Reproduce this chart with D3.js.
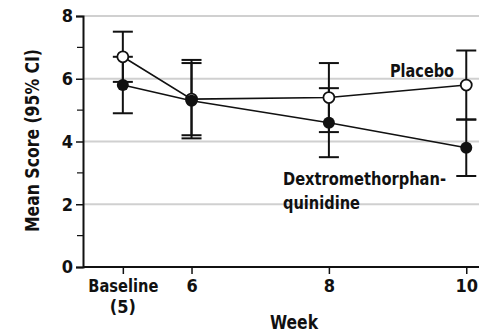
<!DOCTYPE html>
<html>
<head>
<meta charset="utf-8">
<script src="https://cdn.jsdelivr.net/npm/d3@7"></script>
<style>
  body { margin: 0; background: #fff; }
  svg text { font-family: "DejaVu Sans Condensed", "Liberation Sans Narrow", sans-serif; font-weight: bold; fill: #111; }
</style>
</head>
<body>
<svg id="chart" width="479" height="334"></svg>
<script>
// weeks (baseline is week 5)
const weeks = [5, 6, 8, 10];
const weekLabels = ['Baseline', '6', '8', '10'];
const yTicks = [0, 2, 4, 6, 8];
const yMinorTicks = [1, 3, 5, 7];

const placeboMean = [6.7, 5.35, 5.4, 5.8];
const placeboLo = [5.9, 4.2, 4.3, 4.7];
const placeboHi = [7.5, 6.5, 6.5, 6.9];

const dmqMean = [5.8, 5.3, 4.6, 3.8];
const dmqLo = [4.9, 4.1, 3.5, 2.9];
const dmqHi = [6.7, 6.6, 5.7, 4.7];

const margin = { left: 83, top: 16, bottom: 67 };
const width = 479, height = 334;

const svg = d3.select('#chart');

const x = d3.scaleLinear().domain([4.42, 10.2]).range([margin.left, 480]);
const y = d3.scaleLinear().domain([0, 8]).range([height - margin.bottom, margin.top]);

// squeeze text to the narrow face of the original
function narrow(sel, len) {
  sel.attr('textLength', len).attr('lengthAdjust', 'spacingAndGlyphs');
}

// gridlines
svg.append('g')
  .selectAll('line')
  .data(yTicks.filter(d => d > 0))
  .join('line')
    .attr('x1', margin.left).attr('x2', width)
    .attr('y1', d => y(d)).attr('y2', d => y(d))
    .attr('stroke', '#d0d0d0').attr('stroke-width', 2);

// y axis
const yAxis = svg.append('g')
  .attr('transform', `translate(${margin.left},0)`)
  .call(d3.axisLeft(y).tickValues(yTicks).tickSize(7).tickPadding(3));
yAxis.select('.domain').attr('stroke', '#111').attr('stroke-width', 2);
yAxis.selectAll('.tick line').attr('stroke', '#111').attr('stroke-width', 1.5);
yAxis.selectAll('text').style('font-size', '18px');
svg.append('g')
  .selectAll('line')
  .data(yMinorTicks)
  .join('line')
    .attr('x1', margin.left - 6).attr('x2', margin.left)
    .attr('y1', d => y(d)).attr('y2', d => y(d))
    .attr('stroke', '#111').attr('stroke-width', 1.2);

// x axis
const xAxis = svg.append('g')
  .attr('transform', `translate(0,${y(0)})`)
  .call(d3.axisBottom(x).tickValues(weeks).tickSize(7).tickPadding(5)
    .tickFormat((d, i) => weekLabels[i]));
xAxis.select('.domain').attr('d', `M${margin.left},0H${width}`).attr('stroke', '#111').attr('stroke-width', 2);
xAxis.selectAll('.tick line').attr('stroke', '#111').attr('stroke-width', 1.5);
xAxis.selectAll('text').style('font-size', '18px');
xAxis.selectAll('text').filter(d => d === 5).call(narrow, 70);
svg.append('text')
  .attr('x', x(5)).attr('y', y(0) + 46)
  .attr('text-anchor', 'middle').style('font-size', '18px')
  .text('(5)');

svg.append('text')
  .attr('x', 294).attr('y', 329)
  .attr('text-anchor', 'middle').style('font-size', '19px')
  .call(narrow, 48)
  .text('Week');

svg.append('text')
  .attr('transform', `translate(39,${(y(0) + y(8)) / 2 - 1}) rotate(-90)`)
  .attr('text-anchor', 'middle').style('font-size', '19px')
  .call(narrow, 183)
  .text('Mean Score (95% CI)');

// error bars
function errorBars(lo, hi) {
  const g = svg.append('g').attr('stroke', '#111').attr('stroke-width', 2);
  g.selectAll('.v').data(weeks).join('line')
    .attr('x1', d => x(d)).attr('x2', d => x(d))
    .attr('y1', (d, i) => y(lo[i])).attr('y2', (d, i) => y(hi[i]));
  g.selectAll('.lo').data(weeks).join('line')
    .attr('x1', d => x(d) - 10).attr('x2', d => x(d) + 10)
    .attr('y1', (d, i) => y(lo[i])).attr('y2', (d, i) => y(lo[i]));
  g.selectAll('.hi').data(weeks).join('line')
    .attr('x1', d => x(d) - 10).attr('x2', d => x(d) + 10)
    .attr('y1', (d, i) => y(hi[i])).attr('y2', (d, i) => y(hi[i]));
}
errorBars(placeboLo, placeboHi);
errorBars(dmqLo, dmqHi);

const line = d3.line().x((d, i) => x(weeks[i])).y(d => y(d));

svg.append('path').datum(placeboMean).attr('d', line)
  .attr('fill', 'none').attr('stroke', '#111').attr('stroke-width', 1.6);
svg.append('path').datum(dmqMean).attr('d', line)
  .attr('fill', 'none').attr('stroke', '#111').attr('stroke-width', 1.6);

svg.append('g').selectAll('circle').data(placeboMean).join('circle')
  .attr('cx', (d, i) => x(weeks[i])).attr('cy', d => y(d)).attr('r', 5.5)
  .attr('fill', '#fff').attr('stroke', '#111').attr('stroke-width', 1.8);
svg.append('g').selectAll('circle').data(dmqMean).join('circle')
  .attr('cx', (d, i) => x(weeks[i])).attr('cy', d => y(d)).attr('r', 6)
  .attr('fill', '#111');

// series labels
svg.append('text').attr('x', 390).attr('y', 77)
  .style('font-size', '18px').call(narrow, 64).text('Placebo');
svg.append('text').attr('x', 283).attr('y', 185)
  .style('font-size', '18px').call(narrow, 163).text('Dextromethorphan-');
svg.append('text').attr('x', 283).attr('y', 209)
  .style('font-size', '18px').call(narrow, 77).text('quinidine');
</script>
</body>
</html>
